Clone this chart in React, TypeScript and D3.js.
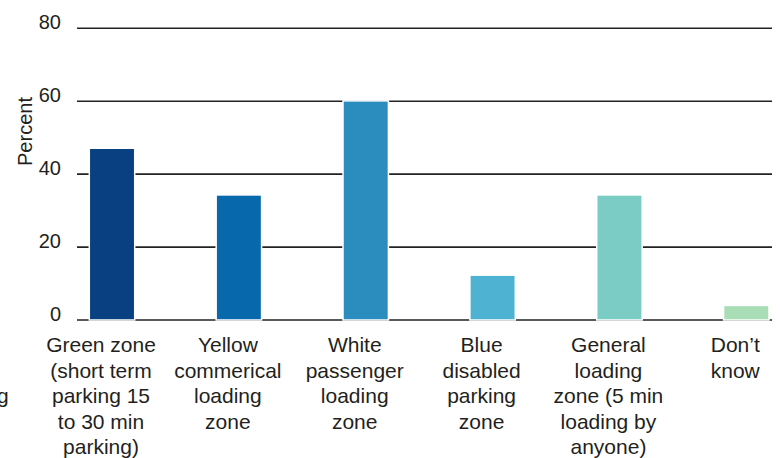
import React from "react";
import * as d3 from "d3";

const categories = [
  "Green zone (short term parking 15 to 30 min parking)",
  "Yellow commerical loading zone",
  "White passenger loading zone",
  "Blue disabled parking zone",
  "General loading zone (5 min loading by anyone)",
  "Don’t know",
];
const labelLines = [
  ["Green zone", "(short term", "parking 15", "to 30 min", "parking)"],
  ["Yellow", "commerical", "loading", "zone"],
  ["White", "passenger", "loading", "zone"],
  ["Blue", "disabled", "parking", "zone"],
  ["General", "loading", "zone (5 min", "loading by", "anyone)"],
  ["Don’t", "know"],
];
const values = [47.1, 34.3, 60.1, 12.3, 34.3, 4.0];
const yTicks = [0, 20, 40, 60, 80];
// third line of a category label that is cut off at the left edge of the picture
const cutOffLabel = ["", "", "parking"];

const width = 780;
const height = 458;
const font = "Arial, 'Liberation Sans', Helvetica, sans-serif";
const textColor = "#231f20";

const App = () => {
  const y = d3.scaleLinear().domain([0, 80]).range([320, 28.3]);
  const x = d3
    .scaleBand<string>()
    .domain(categories)
    .range([89.3, 769])
    .paddingInner(0.642)
    .paddingOuter(0);

  const colors = d3.schemeGnBu[9].slice().reverse();
  const color = d3.scaleOrdinal<string, string>().domain(categories).range(colors);

  const gridLeft = 77;
  const gridRight = 772;
  const labelShift = -11;
  const firstBaseline = 352;
  const lineHeight = 25.6;

  return (
    <svg
      width={width}
      height={height}
      style={{ position: "absolute", left: 0, top: 0, background: "white" }}
      fontFamily={font}
    >
      {/* grid lines */}
      <g stroke="#222" strokeWidth={1.6}>
        {yTicks.map((t) => (
          <line key={t} x1={gridLeft} x2={gridRight} y1={y(t)} y2={y(t)} />
        ))}
      </g>
      {/* tick labels */}
      <g fontSize={20} fill={textColor} textAnchor="end">
        {yTicks.map((t) => (
          <text key={t} x={61} y={y(t) + 1}>
            {t}
          </text>
        ))}
      </g>
      <text
        transform={`translate(31.5, 131.5) rotate(-90)`}
        textAnchor="middle"
        fontSize={20}
        fill={textColor}
      >
        Percent
      </text>
      {/* bars */}
      <g>
        {categories.map((c, i) => (
          <rect
            key={c}
            x={x(c)}
            y={y(values[i])}
            width={x.bandwidth()}
            height={y(0) - y(values[i])}
            fill={color(c)}
            stroke="white"
            strokeWidth={1.5}
          />
        ))}
      </g>
      {/* category labels */}
      <g fontSize={21} fill={textColor} textAnchor="middle">
        {categories.map((c, i) => (
          <text key={c}>
            {labelLines[i].map((line, j) => (
              <tspan
                key={j}
                x={(x(c) ?? 0) + x.bandwidth() / 2 + labelShift}
                y={firstBaseline + j * lineHeight}
              >
                {line}
              </tspan>
            ))}
          </text>
        ))}
        <text>
          {cutOffLabel.map((line, j) => (
            <tspan
              key={j}
              x={(x(categories[0]) ?? 0) - x.step() + x.bandwidth() / 2 + labelShift}
              y={firstBaseline + j * lineHeight}
            >
              {line}
            </tspan>
          ))}
        </text>
      </g>
    </svg>
  );
};

export default App;
